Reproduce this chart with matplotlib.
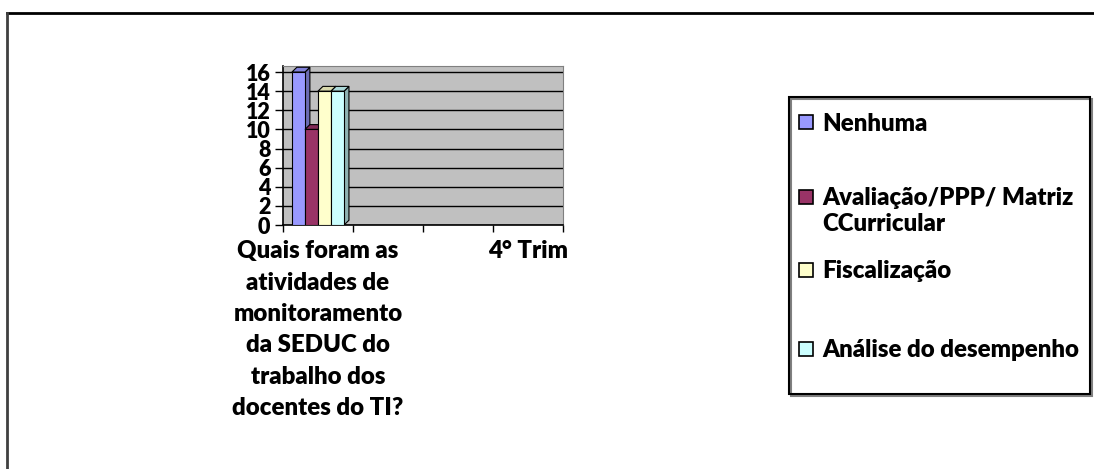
import numpy as np
import matplotlib.pyplot as plt
from matplotlib.patches import Polygon, Rectangle
from matplotlib.lines import Line2D
from matplotlib.colors import to_rgb

plt.rcParams['font.family'] = ['Lato', 'DejaVu Sans']
WEIGHT = 'heavy'

W, H = 1094, 469

categories = ["Quais foram as\natividades de\nmonitoramento\nda SEDUC do\ntrabalho dos\ndocentes do TI?",
              "", "", "4° Trim"]
series = ["Nenhuma", "Avaliação/PPP/ Matriz\nCCurricular", "Fiscalização", "Análise do desempenho"]
colors = ["#9999ff", "#993366", "#ffffcc", "#ccffff"]
# one row per series, one value per category (only the first category has data)
values = [
    [16, np.nan, np.nan, np.nan],
    [10, np.nan, np.nan, np.nan],
    [14, np.nan, np.nan, np.nan],
    [14, np.nan, np.nan, np.nan],
]
yticks = list(range(0, 17, 2))

fig = plt.figure(figsize=(W / 100, H / 100), dpi=100)
ax = fig.add_axes([283 / W, (H - 225) / H, 280 / W, 158.7 / H])
ax.set_facecolor('#c0c0c0')

bw = 0.186
dx, dy = 0.07, 0.5
x = np.arange(len(categories))
for i, (name, vals, c) in enumerate(zip(series, values, colors)):
    rgb = np.array(to_rgb(c))
    xs = x + (i - (len(series) - 1) / 2) * bw
    z = 3 + 3 * i
    for xc, h in zip(xs, vals):
        if np.isnan(h):
            continue
        x0, x1 = xc - bw / 2, xc + bw / 2
        ax.add_patch(Polygon([(x1, 0), (x1 + dx, dy), (x1 + dx, h + dy), (x1, h)],
                             closed=True, fc=rgb * 0.7, ec='black', lw=0.8, zorder=z))
        ax.add_patch(Polygon([(x0, h), (x0 + dx, h + dy), (x1 + dx, h + dy), (x1, h)],
                             closed=True, fc=rgb * 0.85, ec='black', lw=0.8, zorder=z + 1))
    ax.bar(xs, vals, width=bw, color=c, edgecolor='black', linewidth=0.8, zorder=z + 2)

ax.set_xlim(-0.5, len(categories) - 0.5)
ax.set_ylim(0, 16.6)
ax.set_yticks(yticks)
ax.yaxis.grid(True, color='black', linewidth=1.0)
ax.set_axisbelow(True)
ax.tick_params(axis='y', direction='out', length=6, width=1, labelsize=15.5, pad=3)
for lab in ax.get_yticklabels():
    lab.set_fontweight(WEIGHT)

ax.set_xticks(x)
ax.set_xticklabels(categories, fontsize=17.3, fontweight=WEIGHT, linespacing=1.52)
ax.tick_params(axis='x', which='major', length=0, pad=11)
ax.set_xticks(np.arange(-0.5, len(categories), 1), minor=True)
ax.tick_params(axis='x', which='minor', direction='out', length=5, width=1)

for s in ['top', 'right']:
    ax.spines[s].set_color('#808080')
    ax.spines[s].set_linewidth(0.8)
for s in ['left', 'bottom']:
    ax.spines[s].set_color('black')
    ax.spines[s].set_linewidth(1.2)

# outer frame (top and left visible)
fig.add_artist(Line2D([7 / W, 1], [1 - 13 / H, 1 - 13 / H], color='black', lw=2))
fig.add_artist(Line2D([7 / W, 7 / W], [0, 1 - 13 / H], color='#404040', lw=2))

# legend box
fig.add_artist(Rectangle((790.5 / W, 1 - 395.5 / H), 301 / W, 297 / H, transform=fig.transFigure,
                         fill=False, ec='#808080', lw=1.5))
fig.add_artist(Rectangle((789 / W, 1 - 394 / H), 301 / W, 297 / H, transform=fig.transFigure,
                         fill=False, ec='black', lw=1.5))
sq_tops = [115, 190, 263, 342]
baselines = [131, 205, 278, 357]
for name, c, st, bl in zip(series, colors, sq_tops, baselines):
    fig.add_artist(Rectangle((799 / W, 1 - (st + 14) / H), 14 / W, 14 / H, transform=fig.transFigure,
                             fc=c, ec='black', lw=1.2))
    for k, line in enumerate(name.split('\n')):
        fig.text(822 / W, 1 - (bl + 26 * k) / H, line, fontsize=17.3, fontweight=WEIGHT,
                 va='baseline', ha='left')

fig.savefig('out.png', dpi=100)
